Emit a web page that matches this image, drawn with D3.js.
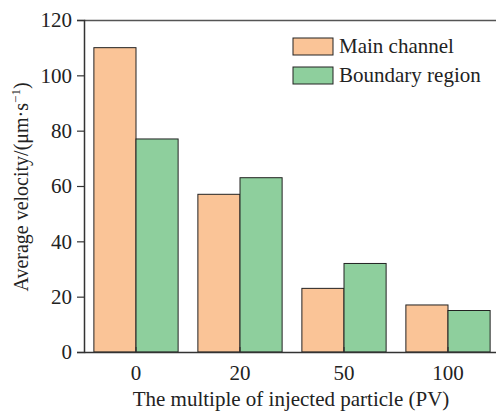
<!DOCTYPE html>
<html>
<head>
<meta charset="utf-8">
<script src="https://cdn.jsdelivr.net/npm/d3@7"></script>
<style>
  body { margin: 0; background: #fff; }
  svg { display: block; }
</style>
</head>
<body>
<svg id="chart"></svg>
<script>
'use strict';

var categories = ['0', '20', '50', '100'];
var seriesNames = ['Main channel', 'Boundary region'];
var mainChannel = [110, 57, 23, 17];
var boundaryRegion = [77, 63, 32, 15];
var yTicks = [0, 20, 40, 60, 80, 100, 120];

var width = 496;
var height = 414;
var margin = {top: 20, right: -4, bottom: 62, left: 84};
var colors = ['#fac497', '#8ecf9d'];
var serif = '"Liberation Serif", "Times New Roman", serif';

var svg = d3.select('#chart')
  .attr('width', width)
  .attr('height', height)
  .attr('font-family', serif);

var innerW = width - margin.left - margin.right;
var innerH = height - margin.top - margin.bottom;

var g = svg.append('g')
  .attr('transform', 'translate(' + margin.left + ',' + margin.top + ')');

var x = d3.scaleBand()
  .domain(categories)
  .range([0, innerW])
  .paddingInner(0.19)
  .paddingOuter(0.095);

var xSub = d3.scaleBand()
  .domain(seriesNames)
  .range([0, x.bandwidth()]);

var y = d3.scaleLinear()
  .domain([0, 120])
  .range([innerH, 0]);

var rows = categories.map(function(c, i) {
  return {cat: c, values: [mainChannel[i], boundaryRegion[i]]};
});

// bars
var groups = g.selectAll('g.group')
  .data(rows)
  .enter().append('g')
  .attr('class', 'group')
  .attr('transform', function(d) { return 'translate(' + x(d.cat) + ',0)'; });

groups.selectAll('rect')
  .data(function(d) { return d.values.map(function(v, j) { return {name: seriesNames[j], value: v, idx: j}; }); })
  .enter().append('rect')
  .attr('x', function(d) { return xSub(d.name); })
  .attr('y', function(d) { return y(d.value); })
  .attr('width', xSub.bandwidth())
  .attr('height', function(d) { return innerH - y(d.value); })
  .attr('fill', function(d) { return colors[d.idx]; })
  .attr('stroke', '#222')
  .attr('stroke-width', 1);

// frame top
g.append('line')
  .attr('x1', 0).attr('x2', innerW)
  .attr('y1', 0.5).attr('y2', 0.5)
  .attr('stroke', '#555').attr('stroke-width', 1.5);

// y axis
var yAxis = g.append('g')
  .call(d3.axisLeft(y).tickValues(yTicks).tickSize(7).tickPadding(5));
yAxis.attr('font-family', serif).attr('font-size', 21);
yAxis.select('.domain').attr('stroke', '#333').attr('stroke-width', 1.5);
yAxis.selectAll('.tick line').attr('stroke', '#333').attr('stroke-width', 1.2);
yAxis.selectAll('.tick text')
  .attr('font-family', serif)
  .attr('font-size', 21)
  .attr('fill', '#222');

// x axis
var xAxis = g.append('g')
  .attr('transform', 'translate(0,' + innerH + ')')
  .call(d3.axisBottom(x).tickSize(-5).tickPadding(13).tickSizeOuter(0));
xAxis.attr('font-family', serif).attr('font-size', 21);
xAxis.select('.domain').attr('stroke', '#333').attr('stroke-width', 1.5);
xAxis.selectAll('.tick line').attr('stroke', '#333').attr('stroke-width', 1.2);
xAxis.selectAll('.tick text')
  .attr('font-family', serif)
  .attr('font-size', 21)
  .attr('fill', '#222');

// axis titles
svg.append('text')
  .attr('x', 291)
  .attr('y', 406)
  .attr('text-anchor', 'middle')
  .attr('font-size', 21)
  .attr('fill', '#222')
  .text('The multiple of injected particle (PV)');

var yTitle = svg.append('text')
  .attr('transform', 'translate(28,' + 187 + ') rotate(-90)')
  .attr('text-anchor', 'middle')
  .attr('font-size', 20)
  .attr('fill', '#222');
yTitle.append('tspan').text('Average velocity/(μm·s');
yTitle.append('tspan').attr('font-size', 13).attr('dy', -8).text('−1');
yTitle.append('tspan').attr('dy', 8).text(')');

// legend
var legend = svg.append('g')
  .attr('transform', 'translate(293,38)');
var items = legend.selectAll('g')
  .data(seriesNames)
  .enter().append('g')
  .attr('transform', function(d, i) { return 'translate(0,' + (i * 29) + ')'; });
items.append('rect')
  .attr('width', 40)
  .attr('height', 17)
  .attr('fill', function(d, i) { return colors[i]; })
  .attr('stroke', '#222');
items.append('text')
  .attr('x', 46)
  .attr('y', 15)
  .attr('font-size', 21)
  .attr('fill', '#222')
  .text(function(d) { return d; });
</script>
</body>
</html>
